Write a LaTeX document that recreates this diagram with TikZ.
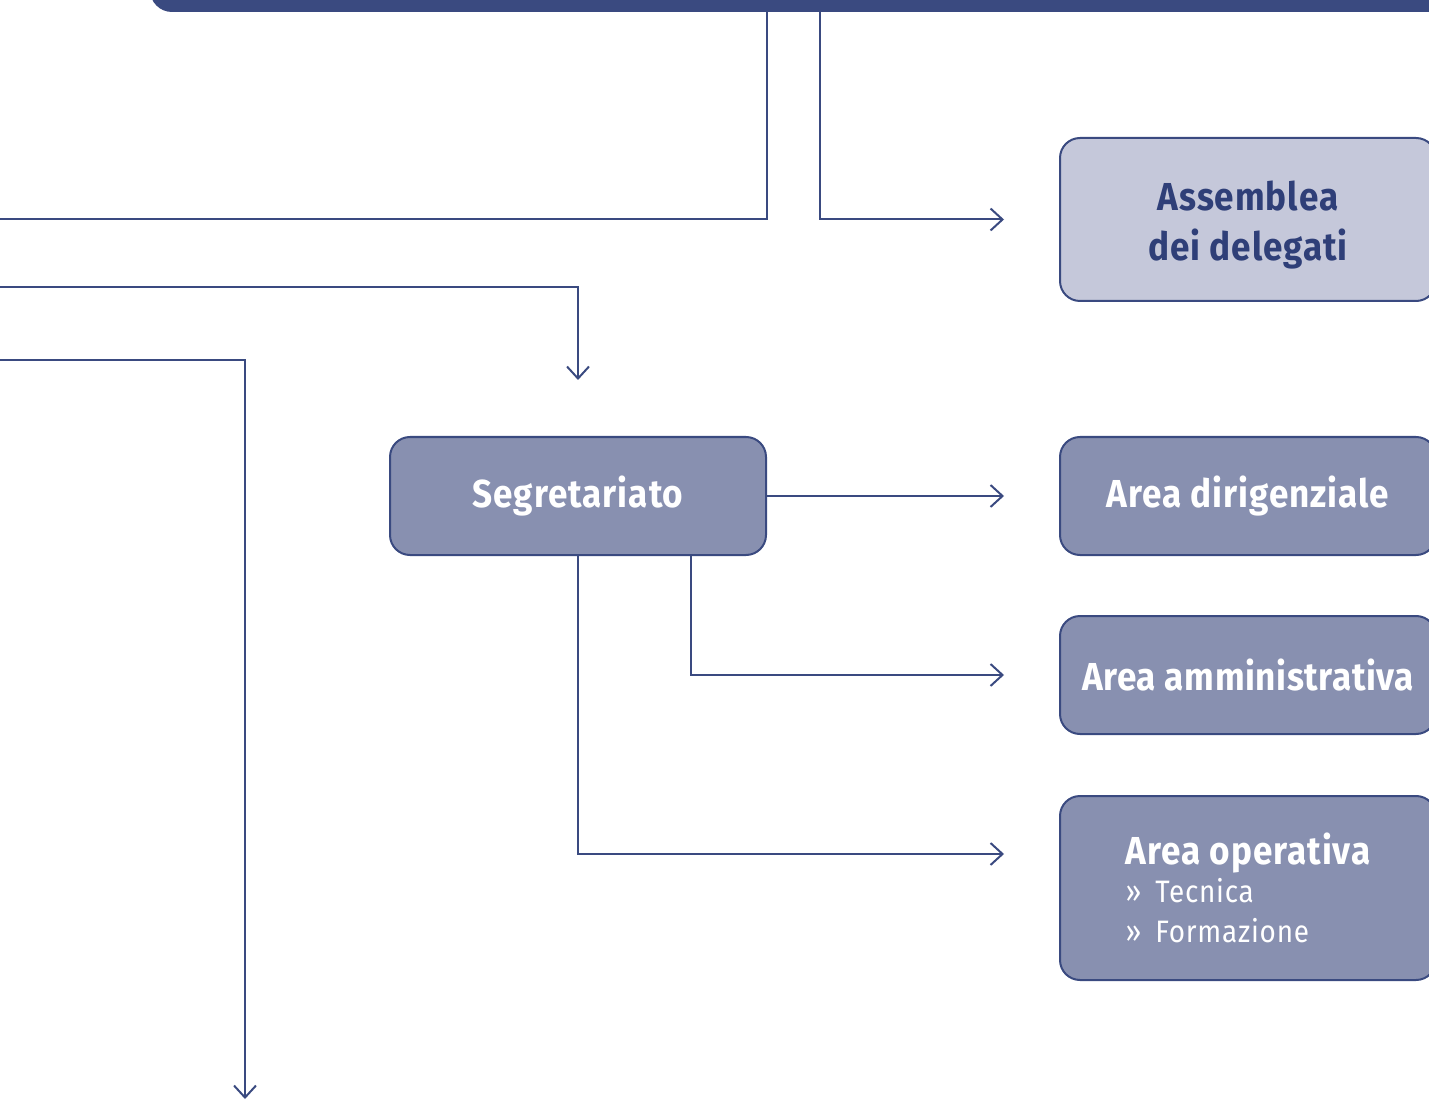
\documentclass[tikz,border=0pt]{standalone}
\usepackage{fontspec}
\setmainfont{Fira Sans}[FakeStretch=0.9,LetterSpace=2.5]
\usetikzlibrary{arrows.meta}
\definecolor{navy}{HTML}{3A4A80}
\definecolor{boxfill}{HTML}{8890B0}
\definecolor{lightfill}{HTML}{C5C8DA}
\definecolor{darktext}{HTML}{2F3F78}
\begin{document}
\begin{tikzpicture}[x=0.5pt,y=-0.5pt,
  conn/.style={draw=navy,line width=1pt},
  arr/.style={conn,-{Straight Barb[length=6pt,width=11pt,line width=1pt]}},
  orgbox/.style={draw=navy,line width=1pt,fill=boxfill,rounded corners=10pt,
    minimum width=188pt,minimum height=59pt,text=white,inner sep=0pt,
    font=\fontsize{19.5}{25}\selectfont\bfseries,align=center},
  lightbox/.style={orgbox,fill=lightfill,text=darktext}]
\useasboundingbox (0,0) rectangle (1429,1101);
\clip (0,0) rectangle (1429,1101);

\node[fill=navy,rounded corners=11pt,minimum width=660pt,minimum height=30pt,inner sep=0pt] (board) at (810,-18) {};
\coordinate (b1) at (767,12);
\coordinate (b2) at (820,12);

\node[lightbox,minimum height=81.5pt] (ass) at (1248,219.5) {\rule{0pt}{20pt}Assemblea\\dei delegati};
\node[orgbox] (seg) at (578,496) {Segretariato};
\node[orgbox] (dir) at (1248,496) {Area dirigenziale};
\node[orgbox] (adm) at (1248,675) {\addfontfeature{LetterSpace=1.5}Area amministrativa};
\node[orgbox,minimum height=92pt,align=left,font=\fontsize{15.5}{20}\selectfont] (op) at (1248,888)
  {{\fontsize{19.5}{20}\selectfont\bfseries Area operativa}\\[-1pt]
   »\hspace{7pt}Tecnica\\
   »\hspace{7pt}Formazione};

\coordinate (l1) at (0,219);
\coordinate (l2) at (0,287);
\coordinate (l3) at (0,360);
\coordinate (t3) at (245,1099);

\draw[conn] (l1) -| (b1);
\draw[arr] (b2) |- ([xshift=-27.5pt]ass.west);
\draw[arr] (l2) -| ([yshift=28pt]seg.north);
\draw[arr] (l3) -| (t3);
\draw[arr] (seg.east) -- ([xshift=-27.5pt]dir.west);
\draw[arr] ([xshift=56.5pt]seg.south) |- ([xshift=-27.5pt]adm.west);
\draw[arr] (seg.south) |- ([xshift=-27.5pt,yshift=17pt]op.west);
\end{tikzpicture}
\end{document}
